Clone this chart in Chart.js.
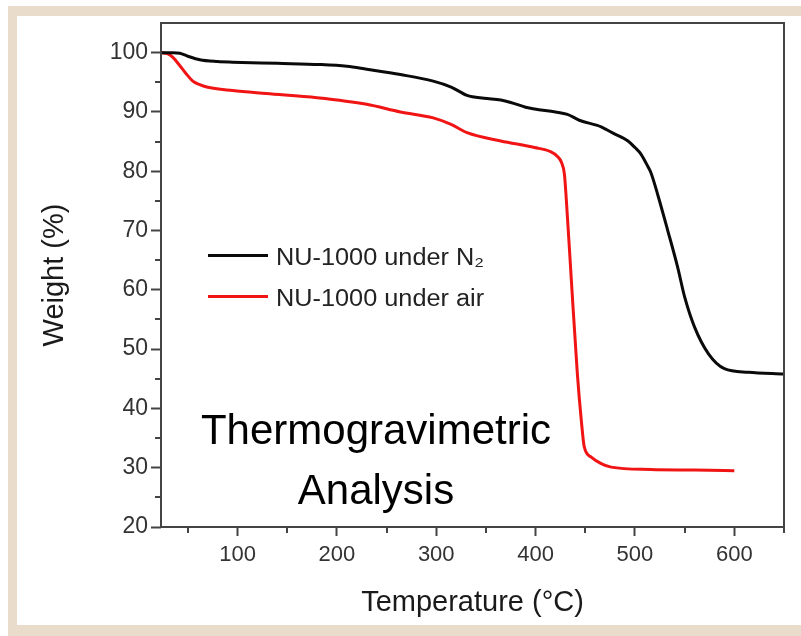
<!DOCTYPE html>
<html>
<head>
<meta charset="utf-8">
<title>NU-1000 TGA</title>
<script src="https://cdn.jsdelivr.net/npm/chart.js@4.4.1/dist/chart.umd.min.js"></script>
<style>
  html, body { margin: 0; padding: 0; background: #fff; }
  #wrap { position: relative; width: 801px; height: 636px; overflow: hidden; font-family: "Liberation Sans", Arial, sans-serif; }
  #chart { position: absolute; left: 0; top: 0; }
  .frame { position: absolute; background: #e9dccb; }
  #legend { position: absolute; left: 208px; top: 242px; }
  .row { position: relative; height: 40.7px; line-height: 30px; font-size: 23px; color: #222; white-space: nowrap; }
  .swatch { position: absolute; left: 0; top: 12px; width: 60px; height: 3px; }
  .lbl { position: absolute; left: 68px; top: 0; transform: scaleX(1.1); transform-origin: left center; }
  #note { position: absolute; left: 176px; top: 400px; width: 400px; text-align: center; font-size: 42px; line-height: 60px; color: #000; }
</style>
</head>
<body>
<div id="wrap">
  <canvas id="chart" width="801" height="636"></canvas>
  <div class="frame" style="left:8px;top:6px;width:793px;height:10px"></div>
  <div class="frame" style="left:8px;top:6px;width:9px;height:630px"></div>
  <div class="frame" style="left:8px;top:625px;width:793px;height:11px"></div>
  <div id="legend"></div>
  <div id="note">Thermogravimetric<br>Analysis</div>
</div>
<script>
// NU-1000 under N2 (temperature in °C, weight in %)
const tempN2   = [23, 35, 42, 50, 62, 80, 95, 140, 183, 210, 230, 264, 297, 315, 331, 348, 365, 375, 390, 399, 420, 432, 444, 466, 477, 493, 500, 506, 513, 516, 523, 533, 543, 550, 560, 574, 590, 614, 650];
const weightN2 = [100, 100, 99.9, 99.4, 98.8, 98.5, 98.4, 98.2, 98.0, 97.7, 97.2, 96.3, 95.2, 94.2, 92.8, 92.3, 92.0, 91.6, 90.8, 90.5, 90.0, 89.6, 88.6, 87.5, 86.5, 85.1, 84.0, 82.9, 80.8, 79.8, 76.0, 70.0, 63.8, 58.8, 53.7, 49.2, 46.7, 46.1, 45.8];

// NU-1000 under air
const tempAir   = [23, 30, 35, 42, 48.5, 55, 62, 69, 95, 129, 180, 230, 264, 297, 315, 331, 365, 399, 415, 422, 426, 429, 431, 436, 442, 446, 449, 456, 466, 476, 516, 560, 600];
const weightAir = [100, 99.8, 99.2, 97.8, 96.4, 95.2, 94.6, 94.2, 93.6, 93.1, 92.4, 91.3, 90.0, 89.0, 87.9, 86.5, 85.1, 84.0, 83.3, 82.5, 81.5, 79.5, 75.0, 61.6, 45.9, 38.0, 33.5, 31.8, 30.7, 30.1, 29.7, 29.6, 29.5];

const seriesLabels = ['NU-1000 under N₂', 'NU-1000 under air'];
const seriesColors = ['#0a0a0a', '#f01414'];

const xTicks = [50, 100, 150, 200, 250, 300, 350, 400, 450, 500, 550, 600, 650];
const yTicks = [20, 25, 30, 35, 40, 45, 50, 55, 60, 65, 70, 75, 80, 85, 90, 95, 100];

Chart.defaults.font.family = '"Liberation Sans", Arial, sans-serif';

function toPoints(xs, ys) {
    return xs.map((x, i) => ({ x: x, y: ys[i] }));
}

// frame round the plot and the short minor ticks
const axisBox = {
    id: 'axisBox',
    afterDraw(chart) {
        const { ctx, chartArea: a, scales: { x, y } } = chart;
        ctx.save();
        ctx.strokeStyle = '#444';
        ctx.lineWidth = 2;
        ctx.strokeRect(a.left, a.top, a.right - a.left, a.bottom - a.top);
        ctx.beginPath();
        xTicks.filter(v => v % 100 !== 0).forEach(v => {
            const px = Math.round(x.getPixelForValue(v));
            ctx.moveTo(px, a.bottom);
            ctx.lineTo(px, a.bottom + 6);
        });
        yTicks.filter(v => v % 10 !== 0).forEach(v => {
            const py = Math.round(y.getPixelForValue(v));
            ctx.moveTo(a.left, py);
            ctx.lineTo(a.left - 6, py);
        });
        ctx.stroke();
        ctx.restore();
    }
};

const chart = new Chart(document.getElementById('chart'), {
    type: 'line',
    data: {
        datasets: [
            { label: seriesLabels[0], data: toPoints(tempN2, weightN2), borderColor: seriesColors[0] },
            { label: seriesLabels[1], data: toPoints(tempAir, weightAir), borderColor: seriesColors[1] }
        ]
    },
    options: {
        responsive: false,
        animation: false,
        layout: { padding: { left: 18, right: 17, top: 23, bottom: 12 } },
        elements: {
            point: { radius: 0 },
            line: { borderWidth: 3, cubicInterpolationMode: 'monotone' }
        },
        plugins: { legend: { display: false }, tooltip: { enabled: false } },
        scales: {
            x: {
                type: 'linear', min: 23, max: 650,
                afterBuildTicks: s => { s.ticks = xTicks.map(v => ({ value: v })); },
                afterFit: s => { s.height = 97; },
                grid: {
                    drawOnChartArea: false, tickLength: 9, tickWidth: 2,
                    tickColor: c => (c.tick && c.tick.value % 100 === 0) ? '#444' : 'rgba(0,0,0,0)'
                },
                border: { display: false },
                ticks: {
                    color: '#333', font: { size: 22 }, padding: 6, maxRotation: 0, autoSkip: false,
                    callback: v => v % 100 === 0 ? String(v) : ''
                },
                title: { display: true, text: 'Temperature (°C)', color: '#1a1a1a', font: { size: 29 }, padding: { top: 0, bottom: 4 } }
            },
            y: {
                min: 20, max: 105,
                afterBuildTicks: s => { s.ticks = yTicks.map(v => ({ value: v })); },
                afterFit: s => { s.width = 143; },
                grid: {
                    drawOnChartArea: false, tickLength: 10, tickWidth: 2,
                    tickColor: c => (c.tick && c.tick.value % 10 === 0) ? '#444' : 'rgba(0,0,0,0)'
                },
                border: { display: false },
                ticks: {
                    color: '#333', font: { size: 23 }, padding: 3, autoSkip: false,
                    callback: v => v % 10 === 0 ? String(v) : ''
                },
                title: { display: true, text: 'Weight (%)', color: '#1a1a1a', font: { size: 29 }, padding: { top: 20, bottom: 0 } }
            }
        }
    },
    plugins: [axisBox]
});

// legend inside the plot, built from the datasets
const legend = document.getElementById('legend');
chart.data.datasets.forEach(ds => {
    const row = document.createElement('div');
    row.className = 'row';
    const sw = document.createElement('div');
    sw.className = 'swatch';
    sw.style.background = ds.borderColor;
    const lbl = document.createElement('span');
    lbl.className = 'lbl';
    lbl.textContent = ds.label;
    row.appendChild(sw);
    row.appendChild(lbl);
    legend.appendChild(row);
});
</script>
</body>
</html>
